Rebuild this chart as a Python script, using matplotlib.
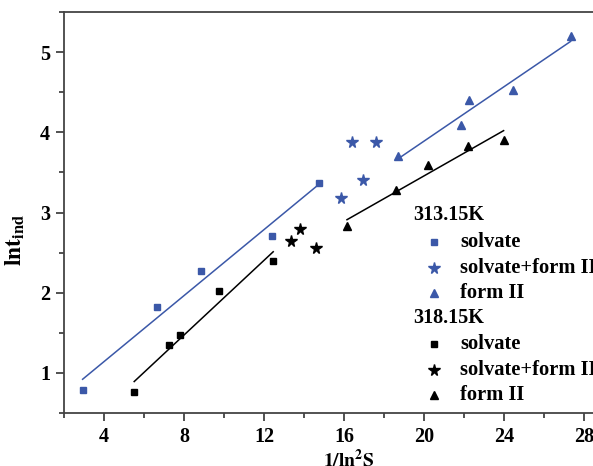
import numpy as np
import matplotlib
matplotlib.use("Agg")
import matplotlib.pyplot as plt

plt.rcParams['font.family'] = ['Liberation Serif', 'DejaVu Serif']
plt.rcParams['font.weight'] = 'bold'
plt.rcParams['mathtext.fontset'] = 'stix'

blue = '#3b58a8'
black = '#000000'

# 313.15K
x_sol_313 = [2.93, 6.63, 8.84, 12.38, 14.77]
y_sol_313 = [0.79, 1.82, 2.27, 2.71, 3.37]
x_mix_313 = [15.87, 16.40, 16.93, 17.58]
y_mix_313 = [3.18, 3.875, 3.40, 3.875]
x_f2_313 = [18.70, 21.84, 22.23, 24.44, 27.33]
y_f2_313 = [3.70, 4.09, 4.40, 4.53, 5.195]

# 318.15K
x_sol_318 = [5.51, 7.23, 7.82, 9.73, 12.46]
y_sol_318 = [0.76, 1.35, 1.475, 2.025, 2.39]
x_mix_318 = [13.35, 13.78, 14.60]
y_mix_318 = [2.65, 2.79, 2.56]
x_f2_318 = [16.15, 18.62, 20.18, 22.19, 23.98]
y_f2_318 = [2.83, 3.28, 3.59, 3.83, 3.91]

fig = plt.figure(figsize=(5.93, 4.66), dpi=100)
ax = fig.add_axes([64/593, 53/466, 560/593, 401/466])


def fit_line(xs, ys, color):
    xs = np.array(xs)
    k, b = np.polyfit(xs, ys, 1)
    xx = np.array([xs.min(), xs.max()])
    ax.plot(xx, k*xx + b, color=color, lw=1.1)


fit_line(x_sol_313, y_sol_313, blue)
fit_line(x_f2_313, y_f2_313, blue)
fit_line(x_sol_318, y_sol_318, black)
fit_line(x_f2_318, y_f2_318, black)

sq, st, tr = 3.8, 8.5, 5.2
ax.plot(x_sol_313, y_sol_313, 's', color=blue, ms=sq, ls='none')
ax.plot(x_mix_313, y_mix_313, '*', color=blue, ms=st, ls='none')
ax.plot(x_f2_313, y_f2_313, '^', color=blue, ms=tr, ls='none')
ax.plot(x_sol_318, y_sol_318, 's', color=black, ms=sq, ls='none')
ax.plot(x_mix_318, y_mix_318, '*', color=black, ms=st, ls='none')
ax.plot(x_f2_318, y_f2_318, '^', color=black, ms=tr, ls='none')

ax.set_xlim(2, 30)
ax.set_ylim(0.5, 5.5)
ax.set_xticks([4, 8, 12, 16, 20, 24, 28])
ax.set_xticks(np.arange(2, 30, 2), minor=True)
ax.set_yticks([1, 2, 3, 4, 5])
ax.set_yticks(np.arange(0.5, 5.6, 0.5), minor=True)
ax.tick_params(which='major', direction='out', length=6, width=1.2,
               labelsize=14.5, pad=4, color='#333333')
ax.tick_params(which='minor', direction='out', length=3.5, width=1.2,
               color='#333333')
for s in ax.spines.values():
    s.set_linewidth(1.3)
    s.set_color('#444444')

ax.set_xlabel(r'$\mathbf{1/ln^2S}$', fontsize=14)
ax.xaxis.set_label_coords((349 - 64)/560, (413 - 449)/401)
ax.set_ylabel(r'$\mathbf{lnt_{ind}}$', fontsize=17)
ax.yaxis.set_label_coords((27 - 64)/560, (413 - 240)/401)

# legend drawn by hand: two group headers with three entries each
headers = ['313.15K', '318.15K']
labels = ['solvate', 'solvate+form II', 'form II']
markers = ['s', '*', '^']
msizes = [sq, st, tr]
colors = [blue, black]
rows_y = [215, 242, 267.7, 293.3, 318.3, 344, 370, 395]
r = 0
for g in range(2):
    ax.text((413 - 64)/560, (413 - rows_y[r])/401, headers[g],
            transform=ax.transAxes, fontsize=14.5, fontweight='bold',
            va='center', ha='left', clip_on=False)
    r += 1
    for m, ms, lab in zip(markers, msizes, labels):
        yy = (413 - rows_y[r])/401
        ax.plot([(434 - 64)/560], [yy], m, color=colors[g], ms=ms,
                transform=ax.transAxes, clip_on=False)
        ax.text((460 - 64)/560, yy, lab, transform=ax.transAxes,
                fontsize=14.8, fontweight='bold', va='center', ha='left',
                clip_on=False)
        r += 1

fig.savefig('out.png', dpi=100)
